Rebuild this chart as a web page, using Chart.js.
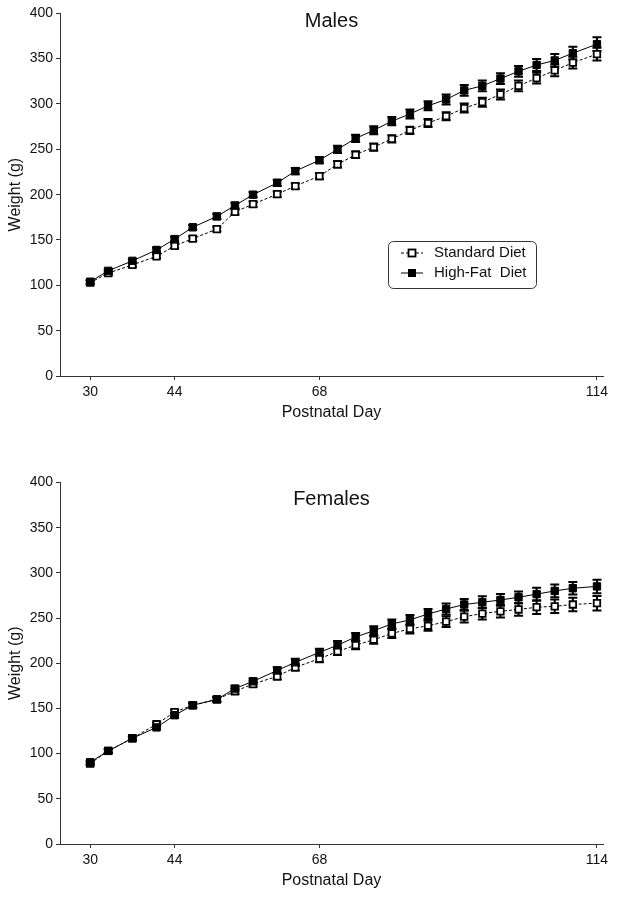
<!DOCTYPE html>
<html>
<head>
<meta charset="utf-8">
<script src="https://cdn.jsdelivr.net/npm/chart.js@4.4.1/dist/chart.umd.min.js"></script>
<style>
  body { margin: 0; background: #fff; }
  .panel { width: 617px; height: 449px; }
</style>
</head>
<body>
<div class="panel"><canvas id="males" width="617" height="449"></canvas></div>
<div class="panel"><canvas id="females" width="617" height="449"></canvas></div>
<script>
// Postnatal days of weighing
const days = [30, 33, 37, 41, 44, 47, 51, 54, 57, 61, 64, 68, 71, 74, 77, 80, 83, 86, 89, 92, 95, 98, 101, 104, 107, 110, 114];
const xTicks = [30, 44, 68, 114];
const seriesLabels = ['Standard Diet', 'High-Fat  Diet'];

// Males (g) and SEM
const maleStd = [103, 113.5, 122.5, 132, 143.5, 151.5, 162, 181, 189.5, 200.5, 209.5, 220.5, 233.5, 244, 252.5, 261.5, 271, 279, 286.5, 295.5, 302, 310.5, 320, 328.5, 337, 345.5, 355];
const maleStdErr = [2, 2, 2, 2, 2.5, 2.5, 2.5, 3, 3, 3, 3, 3.5, 3.5, 3.5, 4, 4, 4, 4.5, 4.5, 5, 5, 5.5, 6, 6, 6.5, 6.5, 7];
const maleHF = [104, 116, 127, 139, 151, 164, 176, 188, 200, 213, 226, 238, 250, 262, 271, 281, 289, 298, 305, 315, 320, 328, 336, 343, 348, 356, 366];
const maleHFErr = [2, 2, 2, 2.5, 2.5, 2.5, 3, 3, 3, 3.5, 3.5, 3.5, 4, 4, 4.5, 4.5, 5, 5, 5.5, 6, 6, 6, 6, 6.5, 7, 7, 7.5];

// Females (g) and SEM
const femaleStd = [89, 103, 117, 132.5, 146, 153.5, 160, 169, 177, 185.5, 195.5, 205, 213, 220, 226, 233, 238, 241.5, 246, 251.5, 255, 257.5, 259.5, 262, 263, 265, 266.5];
const femaleStdErr = [2, 2, 2, 2, 2.5, 2.5, 2.5, 3, 3, 3.5, 3.5, 4, 4, 4.5, 4.5, 5, 5, 5.5, 6, 6.5, 6.5, 7, 7, 7.5, 7.5, 7.5, 8];
const femaleHF = [90.5, 103, 117, 129, 142.5, 153.5, 160, 172, 180, 192, 201, 212, 220, 229, 236, 243.5, 248, 254.5, 260, 265, 267.5, 270, 273, 276.5, 280, 283, 285];
const femaleHFErr = [2, 2, 2, 2, 2.5, 2.5, 2.5, 3, 3, 3.5, 4, 4, 4.5, 4.5, 5, 5, 5.5, 5.5, 6, 6, 6.5, 6.5, 6.5, 7, 7, 7, 7.5];

const FONT = "'Liberation Sans', Arial, sans-serif";
Chart.defaults.font.family = FONT;
Chart.defaults.color = '#111';

// vertical SEM bars, drawn under the markers
const errorBars = {
  id: 'errorBars',
  beforeDatasetsDraw(chart) {
    const ctx = chart.ctx;
    const yScale = chart.scales.y;
    chart.data.datasets.forEach((ds, i) => {
      const meta = chart.getDatasetMeta(i);
      ctx.save();
      ctx.strokeStyle = '#000';
      ctx.lineWidth = 2;
      meta.data.forEach((pt, j) => {
        const v = ds.data[j].y;
        const e = ds.errors[j];
        const top = yScale.getPixelForValue(v + e);
        const bot = yScale.getPixelForValue(v - e);
        ctx.beginPath();
        ctx.moveTo(pt.x, top);
        ctx.lineTo(pt.x, bot);
        ctx.moveTo(pt.x - 4.5, top);
        ctx.lineTo(pt.x + 4.5, top);
        ctx.moveTo(pt.x - 4.5, bot);
        ctx.lineTo(pt.x + 4.5, bot);
        ctx.stroke();
      });
      ctx.restore();
    });
  }
};

// title sits inside the plot area
const panelTitle = {
  id: 'panelTitle',
  afterDraw(chart, args, opts) {
    const ctx = chart.ctx;
    const area = chart.chartArea;
    ctx.save();
    ctx.font = '20px ' + FONT;
    ctx.fillStyle = '#111';
    ctx.textAlign = 'center';
    ctx.textBaseline = 'middle';
    ctx.fillText(opts.text, (area.left + area.right) / 2, opts.y);
    ctx.restore();
  }
};

// boxed legend inside the plot
const boxLegend = {
  id: 'boxLegend',
  afterDraw(chart, args, opts) {
    if (!opts.display) return;
    const ctx = chart.ctx;
    ctx.save();
    ctx.strokeStyle = '#333';
    ctx.lineWidth = 1;
    ctx.beginPath();
    ctx.roundRect(opts.x + 0.5, opts.y + 0.5, opts.w, opts.h, 5);
    ctx.stroke();
    ctx.font = '15px ' + FONT;
    ctx.textBaseline = 'middle';
    ctx.fillStyle = '#111';
    chart.data.datasets.forEach((ds, i) => {
      const cy = opts.y + 12 + i * 20;
      const cx = opts.x + 24;
      ctx.strokeStyle = '#000';
      ctx.lineWidth = 1;
      ctx.setLineDash(ds.borderDash || []);
      ctx.beginPath();
      ctx.moveTo(opts.x + 13, cy);
      ctx.lineTo(opts.x + 35, cy);
      ctx.stroke();
      ctx.setLineDash([]);
      ctx.fillStyle = ds.pointBackgroundColor;
      ctx.lineWidth = ds.pointBorderWidth;
      const s = 7;
      ctx.fillRect(cx - s / 2, cy - s / 2, s, s);
      ctx.strokeRect(cx - s / 2, cy - s / 2, s, s);
      ctx.fillStyle = '#111';
      ctx.fillText(ds.label, opts.x + 46, cy);
    });
    ctx.restore();
  }
};

function makePanel(canvasId, title, titleY, std, stdErr, hf, hfErr, axisTop, axisBottom, showLegend) {
  const H = 449;
  const xBoxHeight = 46.6;
  return new Chart(document.getElementById(canvasId), {
    type: 'line',
    data: {
      datasets: [
        {
          label: seriesLabels[0],
          data: days.map((d, i) => ({ x: d, y: std[i] })),
          errors: stdErr,
          borderColor: '#000',
          borderWidth: 1,
          borderDash: [3, 2],
          pointStyle: 'rect',
          pointRadius: 4.6,
          pointBackgroundColor: '#fff',
          pointBorderColor: '#000',
          pointBorderWidth: 1.8,
          tension: 0,
          order: 1
        },
        {
          label: seriesLabels[1],
          data: days.map((d, i) => ({ x: d, y: hf[i] })),
          errors: hfErr,
          borderColor: '#000',
          borderWidth: 1,
          pointStyle: 'rect',
          pointRadius: 5.2,
          pointBackgroundColor: '#000',
          pointBorderColor: '#000',
          pointBorderWidth: 1,
          tension: 0,
          order: 0
        }
      ]
    },
    options: {
      responsive: false,
      animation: false,
      layout: {
        padding: { left: 0, right: 14, top: axisTop, bottom: H - axisBottom - xBoxHeight }
      },
      plugins: {
        legend: { display: false },
        tooltip: { enabled: false },
        panelTitle: { text: title, y: titleY },
        boxLegend: { display: showLegend, x: 388, y: 241, w: 148, h: 47 }
      },
      scales: {
        x: {
          type: 'linear',
          min: 25,
          max: 115,
          afterBuildTicks: (scale) => { scale.ticks = xTicks.map(v => ({ value: v })); },
          afterFit: (scale) => { scale.height = xBoxHeight; },
          grid: { drawOnChartArea: false, drawTicks: true, tickLength: 4, color: '#333' },
          border: { display: true, color: '#333', width: 1 },
          ticks: { font: { size: 14 }, color: '#111', padding: 4, maxRotation: 0 },
          title: { display: true, text: 'Postnatal Day', font: { size: 16 }, color: '#111', padding: { top: 0, bottom: 0 } }
        },
        y: {
          min: 0,
          max: 400,
          afterFit: (scale) => { scale.width = 60; },
          grid: { drawOnChartArea: false, drawTicks: true, tickLength: 4, color: '#333' },
          border: { display: true, color: '#333', width: 1 },
          ticks: { stepSize: 50, font: { size: 14 }, color: '#111', padding: 3 },
          title: { display: true, text: 'Weight (g)', font: { size: 16 }, color: '#111', padding: { top: 6.4, bottom: 0 } }
        }
      }
    },
    plugins: [errorBars, panelTitle, boxLegend]
  });
}

makePanel('males', 'Males', 21, maleStd, maleStdErr, maleHF, maleHFErr, 13.3, 376, true);
makePanel('females', 'Females', 50, femaleStd, femaleStdErr, femaleHF, femaleHFErr, 33.5, 395, false);
</script>
</body>
</html>
